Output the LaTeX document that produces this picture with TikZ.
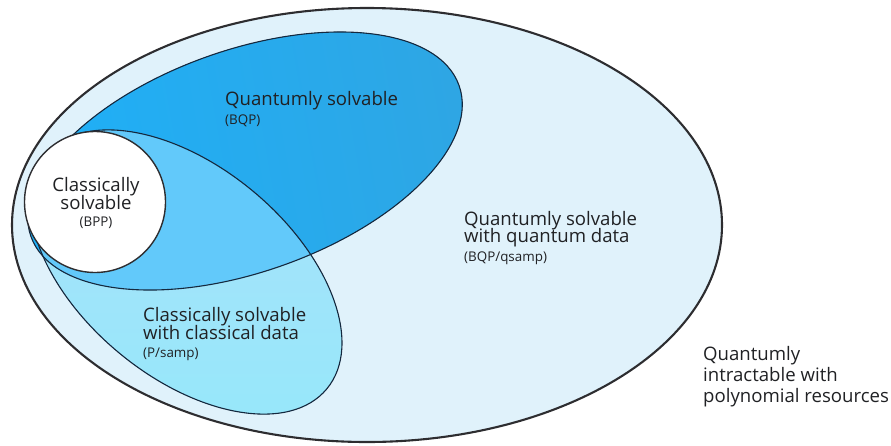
\documentclass[tikz,border=0pt]{standalone}
\usepackage{fontspec}
\setmainfont{Open Sans}
\definecolor{txt}{RGB}{32,33,36}
\definecolor{rim}{RGB}{45,45,48}
\definecolor{edge}{RGB}{20,40,62}
\definecolor{hazefill}{RGB}{224,242,251}
\definecolor{bqpA}{RGB}{30,176,248}
\definecolor{bqpB}{RGB}{46,166,228}
\definecolor{sampA}{RGB}{170,224,250}
\definecolor{sampB}{RGB}{150,232,250}
\definecolor{both}{RGB}{98,201,250}
\begin{document}
\begin{tikzpicture}[x=1pt,y=-1pt,
  bigtext/.style={font=\fontsize{18.6}{20}\selectfont, text=txt, inner sep=0pt},
  smalltext/.style={font=\fontsize{13.4}{15}\selectfont, text=txt, inner sep=0pt},
  lbl/.style={bigtext, anchor=base west},
  sub/.style={smalltext, anchor=base west},
  bqpshape/.style={shift={(245,161)}, rotate=19.4},
  sampshape/.style={shift={(186,272)}, rotate=-39.7}]
\useasboundingbox (0,0) rectangle (891,445);

% outer region: everything reachable with quantum data
\fill[hazefill] (367,225) ellipse [x radius=355pt, y radius=217pt];

% quantumly solvable (BQP)
\fill[bqpshape, left color=bqpA, right color=bqpB, shading angle=100]
  (0,0) ellipse [x radius=227pt, y radius=111pt];
% classically solvable with classical data (P/samp)
\fill[sampshape, top color=sampA, bottom color=sampB]
  (0,0) ellipse [x radius=183pt, y radius=105pt];
% overlap of the two
\begin{scope}
  \clip[bqpshape] (0,0) ellipse [x radius=227pt, y radius=111pt];
  \fill[sampshape, both] (0,0) ellipse [x radius=183pt, y radius=105pt];
\end{scope}

% outlines
\draw[rim, line width=2.1pt] (367,225) ellipse [x radius=355pt, y radius=217pt];
\draw[bqpshape, edge, line width=1.1pt] (0,0) ellipse [x radius=227pt, y radius=111pt];
\draw[sampshape, edge, line width=1.1pt] (0,0) ellipse [x radius=183pt, y radius=105pt];

% classically solvable (BPP)
\draw[rim, fill=white, line width=1.4pt] (95,202) circle [radius=70.5pt];

% labels
\node[lbl] (qs) at (225,105) {Quantumly solvable};
\node[sub] (qsc) at (225,124) {(BQP)};

\node[bigtext, anchor=base] (cs1) at (96,191) {Classically};
\node[bigtext, anchor=base] (cs2) at (96,209) {solvable};
\node[smalltext, anchor=base] (csc) at (96,226) {(BPP)};

\node[lbl] (pc1) at (143,321.5) {Classically solvable};
\node[lbl] (pc2) at (143,339) {with classical data};
\node[sub] (pcc) at (143,357) {(P/samp)};

\node[lbl] (qd1) at (464,225) {Quantumly solvable};
\node[lbl] (qd2) at (464,242.5) {with quantum data};
\node[sub] (qdc) at (464,261) {(BQP/qsamp)};

\node[lbl] (qi1) at (703,360) {Quantumly};
\node[lbl] (qi2) at (703,381) {intractable with};
\node[lbl] (qi3) at (703,402.5) {polynomial resources};
\end{tikzpicture}
\end{document}
